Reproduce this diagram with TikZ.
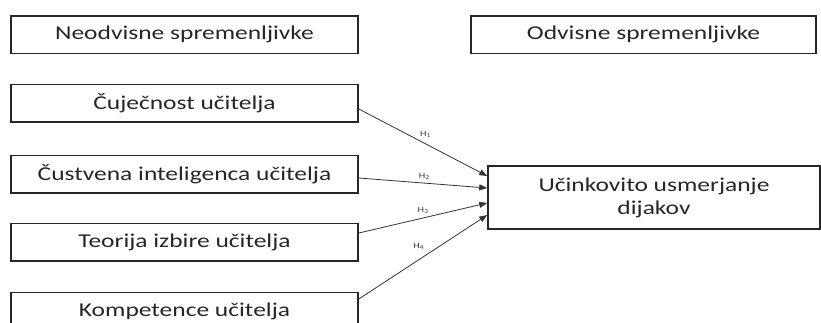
\documentclass[tikz,border=0pt]{standalone}
\usepackage{fontspec}
\setmainfont{Carlito}[FakeStretch=1.3]
\usetikzlibrary{arrows.meta}
\begin{document}
\begin{tikzpicture}[x=1pt,y=-1pt,
  box/.style={draw=black!85,line width=1.5pt,minimum width=347pt,minimum height=37.5pt,inner sep=0pt,font=\fontsize{19.6}{23}\selectfont,text=black!85},
  conn/.style={draw=black!80,line width=0.8pt,-{Triangle[length=8pt,width=6pt]}},
  lab/.style={font=\fontsize{8}{9}\selectfont,text=black!75,inner sep=0pt}]
\useasboundingbox (0,0) rectangle (821,322);
\clip (0,0) rectangle (821,322);
\node[box] (nh) at (184.5,34.5) {Neodvisne spremenljivke};
\node[box,minimum width=345pt] (dh) at (643.5,34.5) {Odvisne spremenljivke};
\node[box] (c1) at (184.5,103) {Čuječnost učitelja};
\node[box] (c2) at (184.5,174) {Čustvena inteligenca učitelja};
\node[box] (c3) at (184.5,242) {Teorija izbire učitelja};
\node[box] (c4) at (184.5,311) {Kompetence učitelja};
\node[box,minimum width=332pt,minimum height=63pt,align=center] (t) at (654,197.5) {Učinkovito usmerjanje\\dijakov};
\draw[conn] ([yshift=-6pt]c1.east) -- node[lab,pos=0.52,above=6pt] {H\textsubscript{1}} ([yshift=21.5pt]t.west);
\draw[conn] ([yshift=-4pt]c2.east) -- node[lab,pos=0.51,above=3pt] {H\textsubscript{2}} ([yshift=9.5pt]t.west);
\draw[conn] ([yshift=9pt]c3.east) -- node[lab,pos=0.5,above=4pt] {H\textsubscript{3}} ([yshift=-5.5pt]t.west);
\draw[conn] ([yshift=12pt]c4.east) -- node[lab,pos=0.49,above=8pt,xshift=-3pt] {H\textsubscript{4}} ([yshift=-17.5pt]t.west);
\end{tikzpicture}
\end{document}
